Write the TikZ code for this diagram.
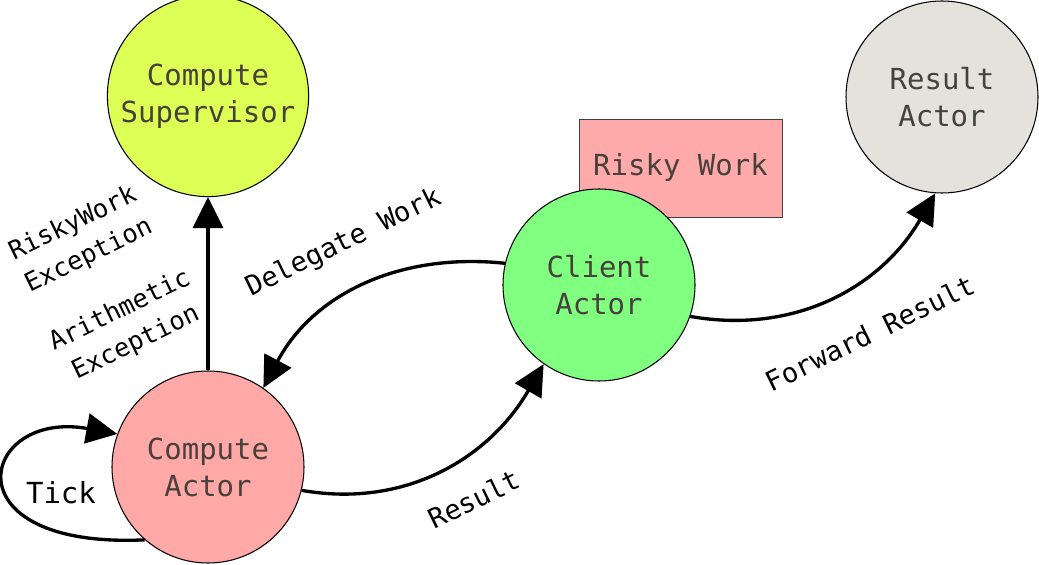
\documentclass[tikz,border=0pt]{standalone}
\usepackage{fontspec}
\setmonofont{DejaVu Sans Mono}
\usetikzlibrary{arrows.meta,positioning}
\definecolor{acsuper}{RGB}{221,255,85}
\definecolor{acresult}{RGB}{227,226,220}
\definecolor{acclient}{RGB}{128,255,128}
\definecolor{accompute}{RGB}{255,168,168}
\definecolor{acrisky}{RGB}{255,170,170}
\definecolor{actext}{RGB}{72,64,58}

\begin{document}
\begin{tikzpicture}[font=\ttfamily\fontsize{16.5}{21}\selectfont,
    actor/.style={circle,draw,line width=.6pt,minimum size=3.84cm,align=center,text=actext},
    msg/.style={-{Triangle[length=.62cm,width=.6cm]},line width=1.9pt},
    lbl/.style={align=center,rotate=26,font=\ttfamily\fontsize{15.5}{20.5}\selectfont},
    exc/.style={lbl,font=\ttfamily\fontsize{14.5}{20.5}\selectfont}]
        \useasboundingbox (0,0) rectangle (20.78,11.28);
        \node[draw=black!75,fill=acrisky,minimum width=4.06cm,minimum height=1.96cm,text=actext] (risky) at (13.61,7.92) {Risky Work};
        \node[actor,fill=acsuper] (super) at (4.16,9.36) {Compute\\Supervisor};
        \node[actor,fill=acresult] (result) at (18.84,9.34) {Result\\Actor};
        \node[actor,fill=acclient] (client) at (11.98,5.58) {Client\\Actor};
        \node[actor,fill=accompute] (compute) at (4.16,1.94) {Compute\\Actor};
        % messages
        \draw[msg] (compute) -- (super);
        \draw[msg] (client.167) to[out=174,in=62] (compute.55);
        \draw[msg] (compute.346) to[out=-10,in=240] (client.235);
        \draw[msg] (client.341) to[out=-10,in=240] (result.266);
        \draw[msg] (compute.229) .. controls (-1.1,.3) and (-.4,3.1) .. (compute.160);
        % labels
        \node (tick) at (1.22,1.42) {Tick};
        \node[lbl] (delegate) at (6.88,6.42) {Delegate Work};
        \node[lbl] (res) at (9.48,1.3) {Result};
        \node[lbl] (fwd) at (17.4,4.62) {Forward Result};
        \node[exc] (riskyexc) at (1.62,6.48) {RiskyWork\\Exception};
        \node[exc] (arithexc) at (2.56,4.74) {Arithmetic\\Exception};
\end{tikzpicture}
\end{document}
